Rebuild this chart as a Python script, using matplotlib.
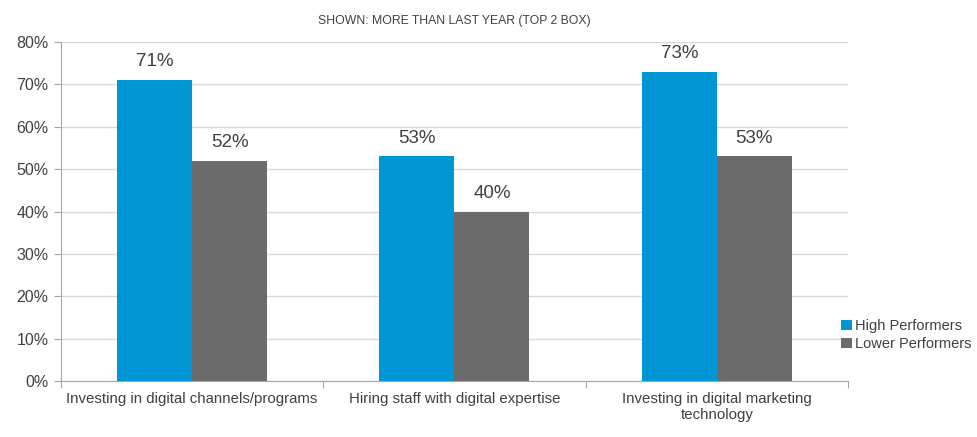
import numpy as np
import matplotlib.pyplot as plt

# data
categories = ["Investing in digital channels/programs",
              "Hiring staff with digital expertise",
              "Investing in digital marketing\ntechnology"]
high_performers = [71, 53, 73]
lower_performers = [52, 40, 53]
series_names = ["High Performers", "Lower Performers"]
y_ticks = [0, 10, 20, 30, 40, 50, 60, 70, 80]

BLUE = "#0096d6"
GRAY = "#6b6b6b"
TEXT = "#404040"

plt.rcParams['font.family'] = ['Liberation Sans', 'DejaVu Sans']

fig = plt.figure(figsize=(9.78, 4.37), dpi=100)
ax = fig.add_axes([0.0624, 0.128, 0.8046, 0.776])

x = np.arange(len(categories))
w = 0.286
b1 = ax.bar(x - w/2, high_performers, w, color=BLUE, label=series_names[0], zorder=3)
b2 = ax.bar(x + w/2, lower_performers, w, color=GRAY, label=series_names[1], zorder=3)

# value labels above bars
for bars, vals in [(b1, high_performers), (b2, lower_performers)]:
    for rect, v in zip(bars, vals):
        ax.annotate(f"{v}%", (rect.get_x() + rect.get_width()/2, v),
                    xytext=(0, 7), textcoords="offset points",
                    ha="center", va="bottom", fontsize=13.5, color=TEXT)

ax.set_xlim(-0.5, len(categories) - 0.5)
ax.set_ylim(0, 80)
ax.set_yticks(y_ticks)
ax.set_yticklabels([f"{t}%" for t in y_ticks], fontsize=11.5, color=TEXT)
ax.yaxis.grid(True, color="#d9d9d9", lw=1, zorder=0)

# category labels between boundary ticks
ax.set_xticks(np.arange(len(categories) + 1) - 0.5)
ax.set_xticklabels([])
ax.set_xticks(x, minor=True)
ax.set_xticklabels(categories, minor=True, fontsize=10.8, color=TEXT)
ax.tick_params(axis="x", which="minor", length=0, pad=8)
ax.tick_params(axis="x", which="major", length=5, color="#a6a6a6")
ax.tick_params(axis="y", length=5, color="#a6a6a6", pad=4)

for s in ["top", "right"]:
    ax.spines[s].set_visible(False)
for s in ["left", "bottom"]:
    ax.spines[s].set_color("#a6a6a6")

ax.set_title("SHOWN: MORE THAN LAST YEAR (TOP 2 BOX)", fontsize=8.8, color=TEXT, pad=13)

ax.legend(loc="center left", bbox_to_anchor=(0.975, 0.135), frameon=False,
          fontsize=10.5, handlelength=0.7, handleheight=0.7, handletextpad=0.25,
          labelspacing=0.3, labelcolor=TEXT)

fig.savefig("out.png", dpi=100, facecolor="white")
